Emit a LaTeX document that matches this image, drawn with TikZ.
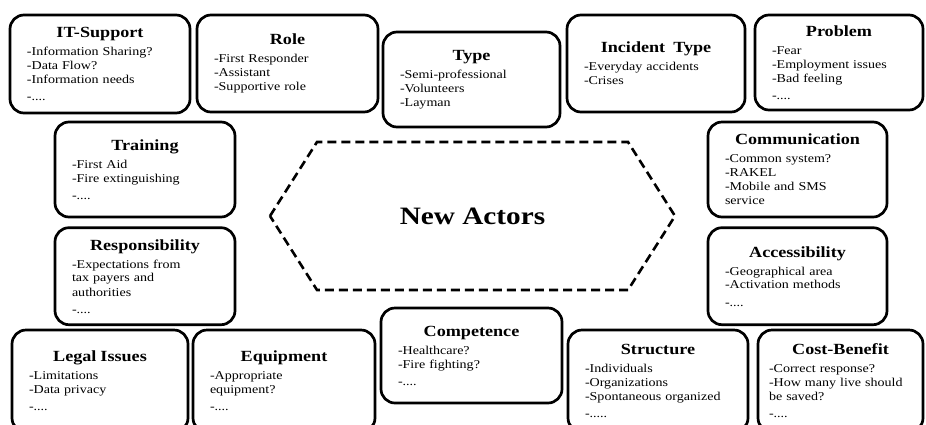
\documentclass[tikz,border=0pt]{standalone}
\usepackage{fontspec}
\setmainfont{Liberation Serif}[FakeStretch=1.17]
\usetikzlibrary{positioning}
\tikzstyle{topic} = [draw=black, line width=2.7pt, rounded corners=14pt, inner xsep=17pt, inner ysep=0pt, align=left, font=\fontsize{12}{14}\selectfont]
\tikzstyle{hexline} = [draw=black, line width=2.6pt, dash pattern=on 9pt off 5pt, line join=miter]
\newcommand{\topichead}[1]{{\centering\fontsize{15.5}{19}\selectfont\bfseries #1\par}\vspace{4pt}}

\begin{document}
\begin{tikzpicture}[x=1pt, y=-1pt]
    \useasboundingbox (0,0) rectangle (926,424);
    \clip (0,0) rectangle (926,424);

    % top row
    \node (itsupport) [topic, minimum height=98pt, text width=146pt] at (100,64) {\topichead{IT-Support}-Information Sharing?\\-Data Flow?\\-Information needs\\[3pt]-....};
    \node (role) [topic, minimum height=97pt, text width=147pt] at (287.5,63.5) {\topichead{Role}-First Responder\\-Assistant\\-Supportive role};
    \node (type) [topic, minimum height=95pt, text width=143pt] at (471.5,79.5) {\topichead{Type}-Semi-professional\\-Volunteers\\-Layman};
    \node (incident) [topic, minimum height=97pt, text width=144pt] at (656,63.5) {\topichead{Incident~ Type}-Everyday accidents\\-Crises};
    \node (problem) [topic, minimum height=95pt, text width=134pt] at (839,62.5) {\topichead{Problem}-Fear\\-Employment issues\\-Bad feeling\\[3pt]-....};

    % left and right columns
    \node (training) [topic, minimum height=95pt, text width=146pt] at (145,169.5) {\topichead{Training}-First Aid\\-Fire extinguishing\\[3pt]-....};
    \node (responsibility) [topic, minimum height=97pt, text width=146pt] [below=8pt of training] {\topichead{Responsibility}-Expectations from\\tax payers and\\authorities\\[3pt]-....};
    \node (communication) [topic, minimum height=95pt, text width=145pt] at (797.5,169.5) {\topichead{Communication}-Common system?\\-RAKEL\\-Mobile and SMS\\service};
    \node (accessibility) [topic, minimum height=97pt, text width=145pt] [below=8pt of communication] {\topichead{Accessibility}-Geographical area\\-Activation methods\\[3pt]-....};

    % centre
    \draw[hexline] (270,216) -- (317,142) -- (628,142) -- (675,216) -- (628,290) -- (317,290) -- cycle;
    \node (actors) at (472.5,216) [font=\fontsize{25}{30}\selectfont\bfseries] {New Actors};

    % bottom row
    \node (competence) [topic, minimum height=95pt, text width=147pt] at (471.5,355.5) {\topichead{Competence}-Healthcare?\\-Fire fighting?\\[3pt]-....};
    \node (legal) [topic, minimum height=102pt, text width=142pt] at (100,381) {\topichead{Legal Issues}-Limitations\\-Data privacy\\[3pt]-....};
    \node (equipment) [topic, minimum height=102pt, text width=148pt] at (284,381) {\topichead{Equipment}-Appropriate\\equipment?\\[3pt]-....};
    \node (structure) [topic, minimum height=102pt, text width=146pt] at (658,381) {\topichead{Structure}-Individuals\\-Organizations\\-Spontaneous organized\\[3pt]-.....};
    \node (costbenefit) [topic, minimum height=102pt, text width=143pt, inner xsep=11pt] at (840.5,381) {\topichead{Cost-Benefit}-Correct response?\\-How many live should\\be saved?\\[3pt]-....};
\end{tikzpicture}
\end{document}
